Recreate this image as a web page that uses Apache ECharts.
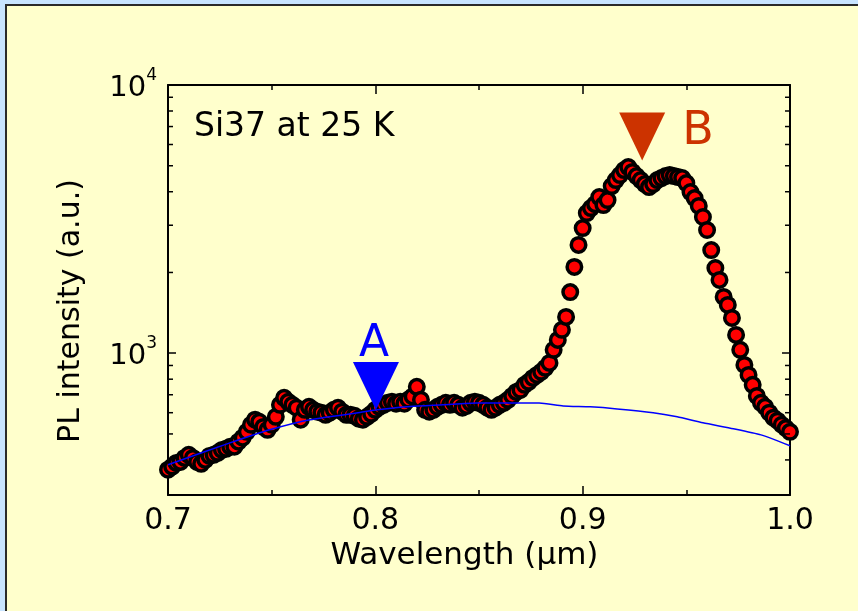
<!DOCTYPE html>
<html><head><meta charset="utf-8">
<script src="https://cdn.jsdelivr.net/npm/echarts@6/dist/echarts.min.js"></script>
<style>html,body{margin:0;padding:0;background:#C8E4FF}#c{width:858px;height:611px}</style>
</head><body><div id="c"></div>
<script>
// ---- data ----
const wavelength = [
0.700,0.702,0.704,0.706,0.708,0.710,0.712,0.714,0.716,0.718,
0.720,0.722,0.724,0.726,0.728,0.730,0.732,0.734,0.736,0.738,
0.740,0.742,0.744,0.746,0.748,0.750,0.752,0.754,0.756,0.758,
0.760,0.762,0.764,0.766,0.768,0.770,0.772,0.774,0.776,0.778,
0.780,0.782,0.784,0.786,0.788,0.790,0.792,0.794,0.796,0.798,
0.800,0.802,0.804,0.806,0.808,0.810,0.812,0.814,0.816,0.818,
0.820,0.822,0.824,0.826,0.828,0.830,0.832,0.834,0.836,0.838,
0.840,0.842,0.844,0.846,0.848,0.850,0.852,0.854,0.856,0.858,
0.860,0.862,0.864,0.866,0.868,0.870,0.872,0.874,0.876,0.878,
0.880,0.882,0.884,0.886,0.888,0.890,0.892,0.894,0.896,0.898,
0.900,0.902,0.904,0.906,0.908,0.910,0.912,0.914,0.916,0.918,
0.920,0.922,0.924,0.926,0.928,0.930,0.932,0.934,0.936,0.938,
0.940,0.942,0.944,0.946,0.948,0.950,0.952,0.954,0.956,0.958,
0.960,0.962,0.964,0.966,0.968,0.970,0.972,0.974,0.976,0.978,
0.980,0.982,0.984,0.986,0.988,0.990,0.992,0.994,0.996,0.998,
1.000];
const intensity = [
368,378,390,393,407,418,407,393,387,400,
414,418,425,436,440,448,448,468,484,509,
541,565,555,531,518,541,579,642,682,659,
642,626,565,615,631,615,605,600,589,600,
615,626,605,589,589,584,570,565,579,594,
615,631,642,653,659,648,659,648,672,690,
749,670,615,605,615,631,642,653,642,653,
642,626,636,653,659,653,642,626,615,626,
642,653,670,693,717,730,762,782,809,830,
852,882,920,1029,1121,1222,1365,1690,2097,2533,
2929,3331,3477,3595,3820,3566,3724,4200,4420,4614,
4817,4942,4740,4575,4421,4270,4163,4270,4421,4498,
4575,4614,4575,4537,4498,4309,3988,3788,3540,3220,
2880,2425,2078,1875,1621,1514,1354,1170,1029,904,
830,762,693,653,631,600,575,560,541,526,
509];
const fitWavelength = [0.700,0.7285,0.749,0.7685,0.7926,0.801,0.8167,0.8326,0.849,0.879,0.8906,0.9036,0.9166,0.934,0.9456,0.958,0.9727,0.986,1.000];
const fitIntensity  = [384,459,518,565,601,615,633,642,652,652,636,631,620,600,579,550,523,496,452];
const xTickLabels = ['0.7','0.8','0.9','1.0'];
const yMinorTicks = [400,500,600,700,800,900,2000,3000,4000,5000,6000,7000,8000,9000];
const markerNames = ['A','B'];
const markerWavelength = [0.8003, 0.9287];
const markerIntensity = [755, 6420];
const markerColors = ['#0000FF','#CC3300'];

const FONT = 'DejaVu Sans';
const chart = echarts.init(document.getElementById('c'), null, {renderer:'canvas'});

const xCommon = {
  type:'value', min:0.7, max:1.0, interval:0.1,
  axisLine:{show:true, lineStyle:{color:'#000', width:2}},
  axisTick:{show:true, inside:true, length:9, lineStyle:{color:'#000', width:1.5}},
  minorTick:{show:true, splitNumber:2, length:5, lineStyle:{color:'#000', width:1.5}},
  splitLine:{show:false}, minorSplitLine:{show:false}
};
const yCommon = {
  type:'log', logBase:10, min:296, max:10000,
  axisLine:{show:true, lineStyle:{color:'#000', width:2}},
  axisTick:{show:true, inside:true, length:8, lineStyle:{color:'#000', width:1.5}},
  minorTick:{show:false},
  splitLine:{show:false}, minorSplitLine:{show:false}
};

const option = {
  backgroundColor:'#C8E4FF',
  animation:false,
  graphic:[
    {type:'rect', z:-100, silent:true, shape:{x:6, y:5, width:900, height:700},
     style:{fill:'#FFFFCC', stroke:'#2a2a2a', lineWidth:2}},
    {type:'text', z:100, left:194, top:111,
     style:{text:'Si37 at 25 K', font:'33px "DejaVu Sans"', fill:'#000'}}
  ],
  grid:{left:168, right:68, top:85, bottom:116, containLabel:false},
  xAxis:[
    Object.assign({}, xCommon, {
      position:'bottom',
      name:'Wavelength (\u03bcm)', nameLocation:'middle', nameGap:45,
      nameTextStyle:{fontFamily:FONT, fontSize:31, color:'#000', padding:[0,29,0,0]},
      axisLabel:{show:true, margin:11, fontFamily:FONT, fontSize:30, color:'#000',
        formatter:v => xTickLabels[Math.round((v-0.7)/0.1)]}
    }),
    Object.assign({}, xCommon, {position:'top', axisLabel:{show:false}})
  ],
  yAxis:[
    Object.assign({}, yCommon, {
      position:'left',
      name:'PL intensity (a.u.)', nameLocation:'middle', nameGap:82,
      nameTextStyle:{fontFamily:FONT, fontSize:30, color:'#000', padding:[0,42,0,0]},
      axisLabel:{show:true, margin:11, color:'#000',
        formatter:function(v){
          const l = Math.log10(v), e = Math.round(l);
          if (Math.abs(l-e) > 1e-6) return '';
          return '{b|10}{s|' + e + '}';
        },
        rich:{
          b:{fontFamily:FONT, fontSize:29, color:'#000', lineHeight:36, verticalAlign:'bottom'},
          s:{fontFamily:FONT, fontSize:17, color:'#000', lineHeight:20, verticalAlign:'top'}
        }
      }
    }),
    Object.assign({}, yCommon, {position:'right', axisLabel:{show:false}})
  ],
  series:[
    {
      type:'scatter', xAxisIndex:0, yAxisIndex:0, z:2,
      data: wavelength.map((w,i)=>[w, intensity[i]]),
      symbol:'circle', symbolSize:14.5,
      itemStyle:{color:'#FF0000', borderColor:'#000', borderWidth:3.5, opacity:1},
      emphasis:{disabled:true}
    },
    {
      type:'line', xAxisIndex:0, yAxisIndex:0, z:3,
      data: fitWavelength.map((w,i)=>[w, fitIntensity[i]]),
      showSymbol:false, smooth:0.2,
      lineStyle:{color:'#0000FF', width:1.5},
      emphasis:{disabled:true}
    },
    {
      type:'scatter', xAxisIndex:0, yAxisIndex:0, z:4,
      symbol:'triangle', symbolRotate:180, symbolSize:[46,48],
      emphasis:{disabled:true},
      data: markerNames.map((n,i)=>({
        name:n, value:[markerWavelength[i], markerIntensity[i]],
        itemStyle:{color:markerColors[i], opacity:1},
        label: i===0
          ? {show:true, position:'top', distance:0, offset:[-2,5], formatter:'{b}', fontFamily:FONT, fontSize:44, color:markerColors[i], opacity:1}
          : {show:true, position:'right', distance:17, offset:[0,-5], formatter:'{b}', fontFamily:FONT, fontSize:46, color:markerColors[i], opacity:1}
      }))
    },
    {
      type:'custom', xAxisIndex:0, yAxisIndex:0, z:5, silent:true,
      data: yMinorTicks.map(v=>[0.7, v]),
      renderItem:function(params, api){
        const y = api.coord([0.7, api.value(1)])[1];
        const cs = params.coordSys;
        const x0 = cs.x, x1 = cs.x + cs.width;
        return {type:'group', children:[
          {type:'line', shape:{x1:x0, y1:y, x2:x0+5, y2:y}, style:{stroke:'#000', lineWidth:1.5}},
          {type:'line', shape:{x1:x1-5, y1:y, x2:x1, y2:y}, style:{stroke:'#000', lineWidth:1.5}}
        ]};
      }
    }
  ]
};
chart.setOption(option);
</script>
</body></html>
